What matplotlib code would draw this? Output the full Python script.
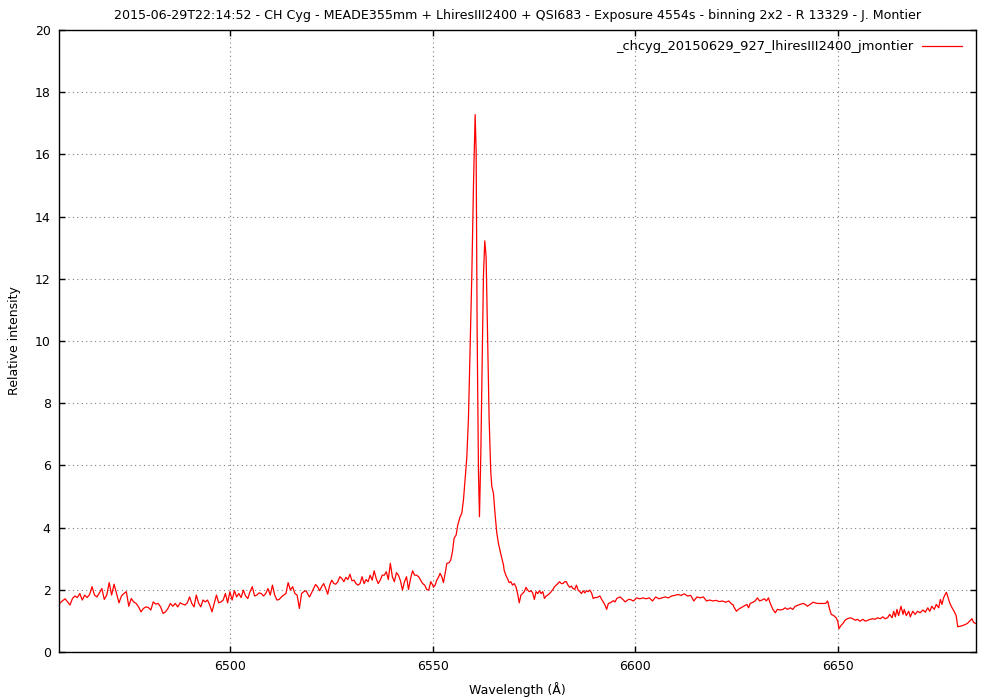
import numpy as np
import matplotlib
matplotlib.use("Agg")
import matplotlib.pyplot as plt

TITLE = ("2015-06-29T22:14:52 - CH Cyg - MEADE355mm + LhiresIII2400 + QSI683 - "
         "Exposure 4554s - binning 2x2 - R 13329 - J. Montier")
SERIES_LABEL = "_chcyg_20150629_927_lhiresIII2400_jmontier"
X_LABEL = "Wavelength (Å)"
Y_LABEL = "Relative intensity"
X_TICKS = [6500, 6550, 6600, 6650]
Y_TICKS = list(range(0, 21, 2))
X_RANGE = (6457.8, 6684.0)
Y_RANGE = (0, 20)

# --- spectrum, segment by segment ---
# segment A : 6458.1 .. 6488.3 (even spacing)
flux_a = [1.58, 1.65, 1.71, 1.61, 1.51, 1.72, 1.80, 1.75, 1.88, 1.67, 1.83, 1.75, 1.85,
          2.10, 1.83, 1.77, 1.90, 2.04, 1.69, 1.83, 2.23, 1.83, 2.18, 1.88, 1.58, 1.80,
          1.88, 1.94, 1.47, 1.72, 1.61, 1.56, 1.45, 1.29, 1.40, 1.45, 1.43, 1.35, 1.61,
          1.54, 1.56, 1.45, 1.24, 1.29, 1.40, 1.56, 1.47, 1.56, 1.45, 1.58, 1.54]
span_a = (6458.1, 6488.3)
# segment B : 6488.9 .. 6519.3
flux_b = [1.51, 1.58, 1.77, 1.56, 1.45, 1.83, 1.58, 1.45, 1.67, 1.61, 1.67, 1.51, 1.29,
          1.56, 1.83, 1.58, 1.61, 1.67, 1.88, 1.58, 1.94, 1.67, 1.97, 1.77, 1.88, 1.75,
          1.99, 1.80, 1.72, 1.94, 2.10, 1.80, 1.83, 1.90, 1.88, 1.80, 1.88, 2.04, 1.83,
          2.15, 1.83, 1.67, 1.69, 1.77, 1.83, 1.88, 2.23, 1.99, 2.10, 1.88, 1.83, 1.40,
          1.88, 1.94, 1.97, 1.83]
span_b = (6488.9, 6519.3)
# segment C : 6519.6 .. 6550.0
flux_c = [1.77, 1.90, 2.04, 2.17, 2.10, 1.97, 2.10, 2.20, 2.04, 1.86, 2.15, 2.31, 2.20,
          2.18, 2.26, 2.42, 2.36, 2.26, 2.40, 2.33, 2.50, 2.29, 2.31, 2.20, 2.15, 2.20,
          2.42, 2.20, 2.33, 2.26, 2.47, 2.31, 2.61, 2.36, 2.20, 2.31, 2.47, 2.47, 2.58,
          2.33, 2.85, 2.42, 2.26, 2.55, 2.47, 2.29, 1.99, 2.26, 2.42, 2.01, 2.36, 2.61,
          2.47, 2.47, 2.42, 2.31, 2.20, 2.15, 2.01, 1.99, 2.26, 2.15]
span_c = (6519.6, 6550.0)
# segment D : blue wing and H-alpha double peak (explicit wavelengths)
wave_d = [6550.17, 6550.58, 6550.99, 6551.40, 6551.81, 6552.22, 6552.63, 6553.05,
          6553.46, 6554.03, 6554.44, 6554.86, 6555.27, 6555.76, 6556.17, 6556.75,
          6557.16, 6557.57, 6557.98, 6558.39, 6558.80, 6559.22, 6559.63, 6560.04,
          6560.45, 6560.70, 6560.94, 6561.27, 6561.52, 6561.85, 6562.18, 6562.50,
          6562.83, 6563.16, 6563.49, 6563.90, 6564.31, 6564.56, 6564.97, 6565.38,
          6565.79, 6566.20, 6566.78, 6567.44]
flux_d = [2.08, 2.15, 2.31, 2.40, 2.53, 2.42, 2.23, 2.53, 2.85, 2.87, 2.96, 3.23, 3.66,
          3.76, 4.09, 4.35, 4.46, 4.89, 5.56, 6.24, 7.50, 9.80, 12.10, 15.00, 17.28,
          16.10, 10.40, 5.80, 4.35, 6.36, 9.20, 12.10, 13.22, 12.70, 10.40, 7.50, 5.78,
          5.33, 5.10, 4.41, 3.83, 3.49, 3.15, 2.80]
# segment E : 6567.6 .. 6598.7
flux_e = [2.63, 2.47, 2.36, 2.23, 2.26, 2.15, 2.20, 2.10, 1.88, 1.58, 1.83, 1.88, 1.94,
          2.08, 1.99, 1.94, 1.97, 1.90, 1.69, 1.94, 1.88, 1.97, 1.88, 1.94, 1.72, 1.80,
          1.83, 1.88, 1.94, 2.01, 2.10, 2.15, 2.20, 2.26, 2.20, 2.20, 2.26, 2.26, 2.15,
          2.08, 2.12, 2.04, 2.01, 2.15, 1.99, 1.94, 1.88, 1.97, 1.90, 1.97, 1.94, 1.99,
          1.90, 1.72, 1.75, 1.75, 1.77, 1.80, 1.69, 1.61, 1.51, 1.37, 1.56, 1.58, 1.61,
          1.65, 1.61, 1.72, 1.75, 1.77, 1.72, 1.67, 1.61, 1.65, 1.69, 1.69]
span_e = (6567.6, 6598.7)
# segment F : 6599.5 .. 6623.8
flux_f = [1.64, 1.74, 1.71, 1.74, 1.71, 1.74, 1.64, 1.77, 1.71, 1.74, 1.77, 1.74, 1.80,
          1.82, 1.85, 1.82, 1.87, 1.80, 1.82, 1.64, 1.77, 1.74, 1.77, 1.64, 1.67, 1.64,
          1.66, 1.62, 1.64, 1.60, 1.64, 1.53]
span_f = (6599.5, 6623.8)
# segment G : red end (explicit wavelengths)
wave_g = [6624.0, 6624.4, 6624.9, 6625.4, 6626.0, 6626.7, 6627.5, 6627.9, 6628.3, 6629.0,
          6629.5, 6630.1, 6630.6, 6631.2, 6631.8, 6632.3, 6632.8, 6633.2, 6633.9, 6634.5,
          6635.0, 6635.7, 6636.4, 6636.9, 6637.5, 6638.2, 6638.8, 6639.4, 6640.0, 6640.6,
          6641.3, 6641.9, 6642.4, 6643.1, 6643.8, 6644.3, 6644.9, 6645.6, 6646.2, 6646.9,
          6647.4, 6647.9, 6648.3, 6648.9, 6649.5, 6649.9, 6650.2, 6650.7, 6651.2, 6651.7,
          6652.3, 6653.0, 6653.6, 6654.2, 6654.8, 6655.4, 6656.1, 6656.7, 6657.3, 6657.9,
          6658.6, 6659.1, 6659.7, 6660.4, 6661.0, 6661.6, 6662.2, 6662.7, 6663.3, 6663.7,
          6664.1, 6664.5, 6664.9, 6665.5, 6666.0, 6666.3, 6666.8, 6667.4, 6667.8, 6668.4,
          6669.0, 6669.6, 6670.2, 6670.9, 6671.5, 6672.1, 6672.6, 6673.1, 6673.7, 6674.2,
          6674.8, 6675.2, 6675.6, 6676.0, 6676.4, 6676.7, 6677.0, 6677.5, 6678.1, 6678.6,
          6679.1, 6679.5, 6680.1, 6680.7, 6681.3, 6681.9, 6682.4, 6683.0, 6683.4, 6683.9]
flux_g = [1.53, 1.42, 1.31, 1.37, 1.42, 1.47, 1.53, 1.42, 1.56, 1.60, 1.64, 1.74, 1.64,
          1.67, 1.71, 1.64, 1.74, 1.58, 1.37, 1.26, 1.37, 1.35, 1.37, 1.42, 1.37, 1.42,
          1.37, 1.47, 1.50, 1.53, 1.56, 1.53, 1.47, 1.53, 1.60, 1.58, 1.56, 1.56, 1.56,
          1.56, 1.64, 1.37, 1.21, 1.17, 1.10, 0.99, 0.75, 0.85, 0.92, 1.02, 1.07, 1.10,
          1.07, 1.02, 1.05, 0.99, 1.05, 0.99, 1.02, 1.05, 1.07, 1.05, 1.10, 1.07, 1.13,
          1.07, 1.10, 1.21, 1.10, 1.31, 1.13, 1.37, 1.17, 1.47, 1.21, 1.37, 1.17, 1.31,
          1.13, 1.31, 1.21, 1.31, 1.26, 1.35, 1.28, 1.42, 1.31, 1.47, 1.37, 1.53, 1.42,
          1.69, 1.53, 1.74, 1.85, 1.92, 1.80, 1.58, 1.42, 1.31, 1.17, 0.81, 0.83, 0.85,
          0.88, 0.92, 0.99, 1.07, 0.95, 0.92]

wave = np.concatenate([
    np.linspace(*span_a, len(flux_a)),
    np.linspace(*span_b, len(flux_b)),
    np.linspace(*span_c, len(flux_c)),
    np.array(wave_d),
    np.linspace(*span_e, len(flux_e)),
    np.linspace(*span_f, len(flux_f)),
    np.array(wave_g),
])
flux = np.concatenate([flux_a, flux_b, flux_c, flux_d, flux_e, flux_f, flux_g])

plt.rcParams['font.family'] = ['DejaVu Sans']
fig = plt.figure(figsize=(10, 7), dpi=100)
ax = fig.add_axes([0.059, 0.0686, 0.917, 0.8885])

line, = ax.plot(wave, flux, color='#ff0000', lw=0.9)

ax.set_xlim(*X_RANGE)
ax.set_ylim(*Y_RANGE)
ax.set_xticks(X_TICKS)
ax.set_yticks(Y_TICKS)
ax.tick_params(direction='in', top=True, right=True, length=4.5, width=1,
               labelsize=9, pad=6, colors='black')
ax.grid(True, color='#808080', linestyle=(0, (1, 3)), linewidth=0.8)
for s in ax.spines.values():
    s.set_linewidth(1)
    s.set_color('black')

ax.set_xlabel(X_LABEL, fontsize=9, labelpad=6)
ax.set_ylabel(Y_LABEL, fontsize=9, labelpad=10)
ax.set_title(TITLE, fontsize=9.05, pad=8)

leg = ax.legend([line], ['placeholder'], loc='upper right', frameon=False,
                markerfirst=False, fontsize=9.4, handlelength=3.0,
                handletextpad=0.7, borderaxespad=0.7, borderpad=0.4,
                bbox_to_anchor=(1.0, 1.0064))
leg.get_texts()[0].set_text(SERIES_LABEL)

fig.savefig('out.png', dpi=100)
